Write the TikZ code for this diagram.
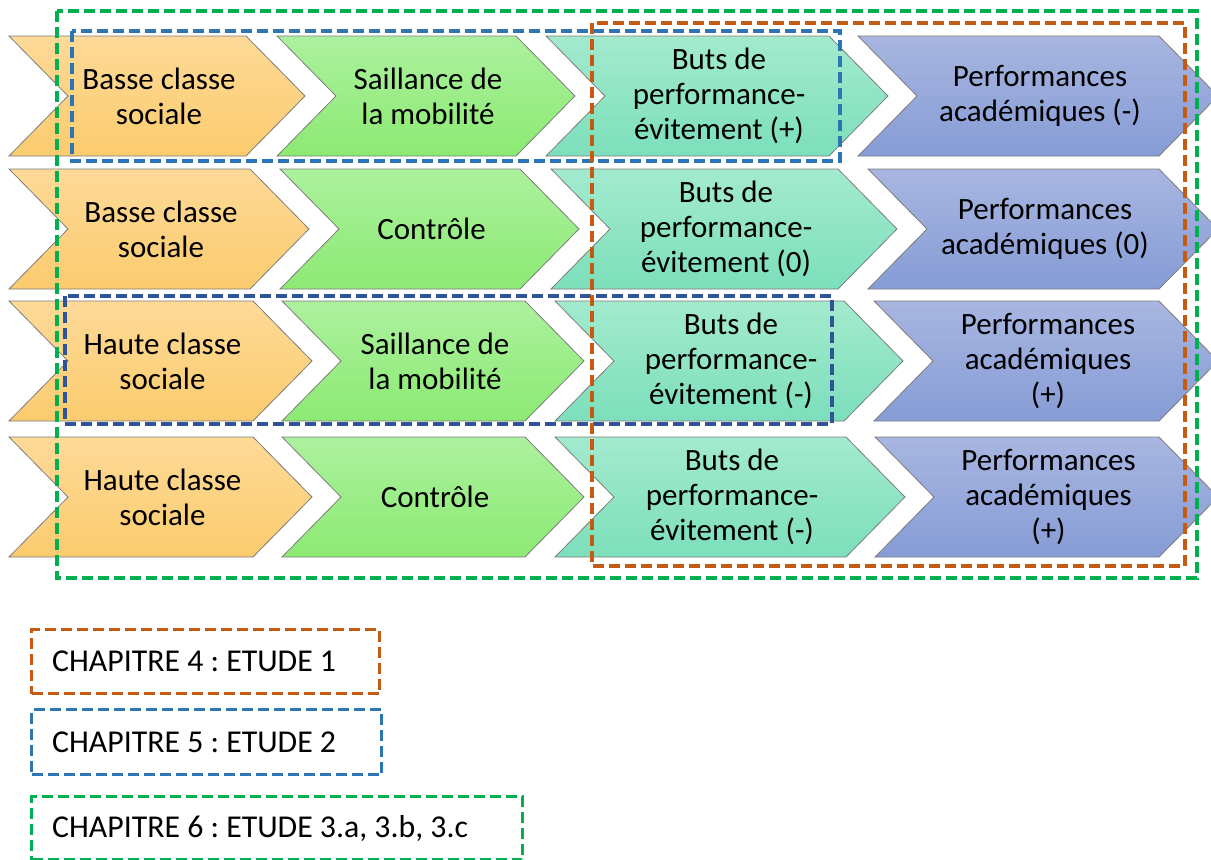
\documentclass[tikz,border=0pt]{standalone}
\usepackage{fontspec}
\setmainfont{Carlito}
\frenchspacing
\definecolor{chevgray}{RGB}{125,125,125}
\definecolor{orT}{RGB}{254,218,152}
\definecolor{orB}{RGB}{251,203,110}
\definecolor{grT}{RGB}{172,241,158}
\definecolor{grB}{RGB}{140,234,115}
\definecolor{teT}{RGB}{163,234,206}
\definecolor{teB}{RGB}{124,223,187}
\definecolor{blT}{RGB}{168,182,224}
\definecolor{blB}{RGB}{134,156,214}
\definecolor{dgreen}{RGB}{0,176,80}
\definecolor{dorange}{RGB}{197,90,17}
\definecolor{dblue}{RGB}{46,117,182}
\definecolor{dnavy}{RGB}{47,85,151}
\tikzset{
  orangechev/.style={top color=orT, bottom color=orB},
  greenchev/.style={top color=grT, bottom color=grB},
  tealchev/.style={top color=teT, bottom color=teB},
  bluechev/.style={top color=blT, bottom color=blB},
  chevtext/.style={align=center, inner sep=0pt, font=\fontsize{31}{35}\selectfont},
  dashbox/.style={line width=3.2pt, dash pattern=on 11pt off 5pt},
  legbox/.style={dashbox, draw=#1, rectangle, anchor=north west, inner sep=0pt},
  legtext/.style={anchor=west, inner sep=0pt, font=\fontsize{31.8}{35}\selectfont},
}
% \chev{name}{left x}{tip x}{center y (px from top)}{style}{text}
\newcommand\chev[6]{%
  \path[#5, draw=chevgray, line width=0.8pt]
    (#2,-#4+60) -- (#3-59,-#4+60) -- (#3,-#4) -- (#3-59,-#4-60)
    -- (#2,-#4-60) -- (#2+59,-#4) -- cycle;
  \node[chevtext] (#1) at ({(#2+#3)/2+2},-#4) {#6};
}
\begin{document}
\begin{tikzpicture}[x=1pt,y=1pt]
\useasboundingbox (0,0) rectangle (1211,-860);
\clip (0,0) rectangle (1211,-860);
\fill[white] (0,0) rectangle (1211,-860);
% Row 1
\chev{a1}{9}{305}{96}{orangechev}{Basse classe\\sociale}
\chev{b1}{277}{575}{96}{greenchev}{Saillance de\\la mobilité}
\chev{c1}{546}{888}{96}{tealchev}{Buts de\\performance-\\évitement (+)}
\chev{d1}{858}{1218}{96}{bluechev}{Performances\\académiques (-)}
% Row 2
\chev{a2}{9}{309}{229}{orangechev}{Basse classe\\sociale}
\chev{b2}{280}{579}{229}{greenchev}{Contrôle}
\chev{c2}{551}{897}{229}{tealchev}{Buts de\\performance-\\évitement (0)}
\chev{d2}{868}{1218}{229}{bluechev}{Performances\\académiques (0)}
% Row 3
\chev{a3}{9}{312}{361}{orangechev}{Haute classe\\sociale}
\chev{b3}{282}{584}{361}{greenchev}{Saillance de\\la mobilité}
\chev{c3}{555}{903}{361}{tealchev}{Buts de\\performance-\\évitement (-)}
\chev{d3}{874}{1218}{361}{bluechev}{Performances\\académiques\\(+)}
% Row 4
\chev{a4}{9}{312}{497}{orangechev}{Haute classe\\sociale}
\chev{b4}{282}{584}{497}{greenchev}{Contrôle}
\chev{c4}{555}{905}{497}{tealchev}{Buts de\\performance-\\évitement (-)}
\chev{d4}{875}{1218}{497}{bluechev}{Performances\\académiques\\(+)}
% Dashed study frames
\draw[dashbox, draw=dgreen] (57,-11) rectangle (1197,-578);
\draw[dashbox, draw=dblue] (72,-31) rectangle (840,-161);
\draw[dashbox, draw=dnavy] (65,-296) rectangle (832,-424);
\draw[dashbox, draw=dorange] (592,-23) rectangle (1185,-566);
% Legend
\node[legbox=dorange, minimum width=348pt, minimum height=64pt] (l4) at (30,-628) {};
\node[legtext] (t4) at ([xshift=22pt]l4.west) {CHAPITRE 4 : ETUDE 1};
\node[legbox=dblue, minimum width=350pt, minimum height=65pt] (l5) at (30,-708) {};
\node[legtext] (t5) at ([xshift=22pt]l5.west) {CHAPITRE 5 : ETUDE 2};
\node[legbox=dgreen, minimum width=491pt, minimum height=63pt] (l6) at (30,-795) {};
\node[legtext] (t6) at ([xshift=22pt]l6.west) {CHAPITRE 6 : ETUDE 3.a, 3.b, 3.c};
\end{tikzpicture}
\end{document}
